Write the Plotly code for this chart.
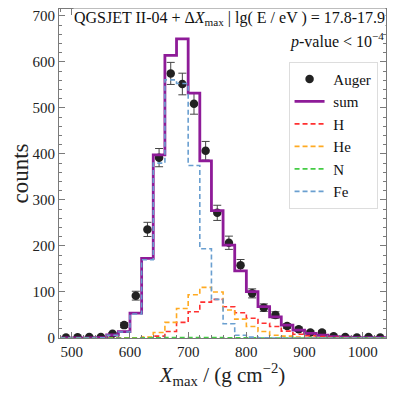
import numpy as np
import plotly.graph_objects as go

bin_edges = list(range(480, 1041, 20))
bin_centers = [490, 510, 530, 550, 570, 590, 610, 630, 650, 670, 690, 710, 730, 750,
               770, 790, 810, 830, 850, 870, 890, 910, 930, 950, 970, 990, 1010, 1030]

auger = [1, 1.5, 2, 2, 9, 28, 92, 236, 392, 575, 552, 509, 407, 272,
         207, 158, 97, 66, 50, 26, 19, 12, 12, 4, 2, 1, 2, 1]
auger_err = [1, 1.2, 1.4, 1.4, 3, 5.3, 9.6, 15.4, 19.8, 24, 23.5, 22.6, 20.2, 16.5,
             14.4, 12.6, 9.8, 8.1, 7.1, 5.1, 4.4, 3.5, 3.5, 2, 1.4, 1, 1.4, 1]

sum_model = [0.3, 0.3, 0.3, 0.5, 6.5, 14, 54, 173, 398, 614, 650, 532, 385, 277,
             202, 146, 101, 68, 46, 28, 17, 10, 6, 3, 2, 1, 1, 0.5]
fe = [0, 0, 0, 0.3, 6, 13, 52, 170, 380, 561, 553, 375, 194, 84,
      31, 6, 2, 0.5, 0, 0, 0, 0, 0, 0, 0, 0, 0, 0]
he = [0, 0, 0, 0, 0, 0, 0.5, 2, 12, 34, 64, 94, 110, 100,
      61, 41, 25, 14, 6, 4, 2, 1, 0.5, 0, 0, 0, 0, 0]
h = [0, 0, 0, 0, 0, 0, 0.3, 1, 4, 14, 34, 57, 78, 84,
     68, 55, 43, 32, 25, 15, 8, 5, 3, 1.5, 1, 0.5, 0.3, 0]
n = [0, 0, 0, 0, 0, 0, 0, 0.3, 0.5, 1, 1, 1, 1, 1,
     0.5, 0.5, 0.3, 0, 0, 0, 0, 0, 0, 0, 0, 0, 0, 0]

FONT = "Liberation Serif"
DASH = "5px,3px"
PAD = "\u00a0"


def step_trace(vals, name, color, dash, width):
    return go.Scatter(x=bin_edges, y=list(vals) + [vals[-1]], mode="lines",
                      line=dict(shape="hv", color=color, dash=dash, width=width),
                      name=PAD + name)


fig = go.Figure()
fig.add_trace(go.Scatter(x=bin_centers, y=auger, mode="markers", name=PAD + "Auger",
                         marker=dict(color="#222222", size=8.5),
                         error_y=dict(type="data", array=auger_err, color="#444444",
                                      thickness=1, width=4)))
fig.add_trace(step_trace(sum_model, "sum", "#8e1b98", "solid", 2.8))
fig.add_trace(step_trace(h, "H", "#ff3030", DASH, 1.6))
fig.add_trace(step_trace(he, "He", "#ffaa22", DASH, 1.6))
fig.add_trace(step_trace(n, "N", "#44cc44", DASH, 1.6))
fig.add_trace(step_trace(fe, "Fe", "#6a9fd0", DASH, 1.6))

axis_common = dict(showline=True, mirror="allticks", linecolor="#7a7a7a", linewidth=1.2,
                   ticks="inside", ticklen=6, tickcolor="#7a7a7a", showgrid=False,
                   zeroline=False, automargin=False,
                   tickfont=dict(family=FONT, size=15, color="#222"))

fig.update_xaxes(range=[478, 1040], tickvals=[500, 600, 700, 800, 900, 1000],
                 minor=dict(ticks="inside", ticklen=3, dtick=20, tickcolor="#7a7a7a"),
                 title=dict(text="<i>X</i><sub>max</sub> / (g cm<sup>−2</sup>)",
                            font=dict(family=FONT, size=21, color="#222"), standoff=4),
                 **axis_common)
fig.update_yaxes(range=[0, 715], tickvals=[0, 100, 200, 300, 400, 500, 600, 700],
                 minor=dict(ticks="inside", ticklen=3, dtick=20, tickcolor="#7a7a7a"),
                 title=dict(text="counts", font=dict(family=FONT, size=23, color="#222"),
                            standoff=4),
                 **axis_common)

fig.add_annotation(x=1.0, y=0.97, xref="paper", yref="paper", xanchor="right",
                   yanchor="middle", showarrow=False, bgcolor="white", borderpad=0,
                   text="QGSJET II-04 + Δ<i>X</i><sub>max</sub> | lg( E / eV ) = 17.8-17.9",
                   font=dict(family=FONT, size=16, color="#111"))
fig.add_annotation(x=1.0, y=0.905, xref="paper", yref="paper", xanchor="right",
                   yanchor="middle", showarrow=False,
                   text="<i>p</i>-value < 10<sup>−4</sup>",
                   font=dict(family=FONT, size=16, color="#111"))

# page body adds an 8px offset; size the figure so the plot area lands where the reference has it
fig.update_layout(width=391, height=391, margin=dict(l=51, r=13, t=1, b=61),
                  plot_bgcolor="white", paper_bgcolor="white",
                  legend=dict(x=0.702, y=0.84, xanchor="left", yanchor="top",
                              bgcolor="white", bordercolor="#dddddd", borderwidth=1,
                              font=dict(family=FONT, size=15, color="#111")),
                  showlegend=True)

fig.write_html("out.html")
